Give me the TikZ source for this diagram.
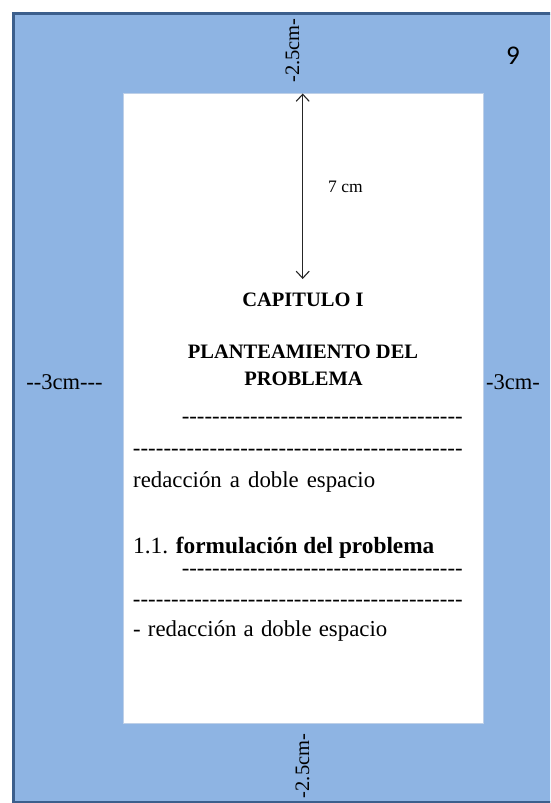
\documentclass[tikz,border=0pt]{standalone}
\usepackage{fontspec}
\setmainfont{Liberation Serif}
\newfontfamily\calfont{Carlito}
\usetikzlibrary{arrows.meta}
\definecolor{pageblue}{RGB}{142,180,227}
\definecolor{borderblue}{RGB}{60,95,140}
\definecolor{edgeblue}{RGB}{190,208,232}
\newcommand\hy{\mbox{-}}
\newcommand\dashfill[1]{\hbox to #1{\xleaders\hbox{-}\hfill}}
\begin{document}
\begin{tikzpicture}[x=1pt,y=-1pt,
  txt/.style={inner sep=0pt, font=\fontsize{20.5}{24}\selectfont, text=black},
  body/.style={txt, font=\fontsize{22.8}{26}\selectfont},
  dimarrow/.style={{Straight Barb[length=7pt,width=13pt]}-{Straight Barb[length=7pt,width=13pt]}, line width=1.1pt, draw=black!85}]
\useasboundingbox (0,0) rectangle (550,803);
\clip (0,0) rectangle (550,803);
\fill[white] (0,0) rectangle (550,803);
\draw[draw=borderblue, fill=pageblue, line width=2.8pt] (13.8,13.6) rectangle (580,802.2);
\node[draw=edgeblue, fill=white, line width=0.8pt, minimum width=360.3pt, minimum height=630pt, inner sep=0pt, anchor=north west] (page) at (122.7,92.7) {};
% dimension arrow
\coordinate (atop) at (302.7,93.5);
\coordinate (abot) at (302.7,279);
\draw[dimarrow] (atop) -- (abot);
\node[txt, font=\fontsize{17.5}{20}\selectfont, anchor=base west] (seven) at (328,192.8) {7 cm};
% margin labels
\node[txt, rotate=90] (mtop) at (292.5,50.5) {-2.5cm-};
\node[txt, rotate=90] (mbot) at (302.5,766) {-2.5cm-};
\node[txt, font=\fontsize{22.5}{26}\selectfont, anchor=base] (mleft) at (64.5,389.3) {\hy\hy3cm\hy\hy\hy};
\node[txt, font=\fontsize{22.5}{26}\selectfont, anchor=base] (mright) at (513,389.3) {-3cm-};
\node[font=\calfont\fontsize{27}{30}\selectfont, inner sep=0pt] (nine) at (513,55.5) {9};
% page content
\node[txt, anchor=base] (cap) at (303,306) {\bfseries CAPITULO I};
\node[txt, anchor=base] (plan1) at (303,358.3) {\bfseries PLANTEAMIENTO DEL};
\node[txt, anchor=base] (plan2) at (303.5,385) {\bfseries PROBLEMA};
\node[body, anchor=base east] (d1) at (463,423) {\dashfill{281pt}};
\node[body, anchor=base east] (d2) at (463,455) {\dashfill{330pt}};
\node[body, anchor=base west] (r1) at (133,487.3) {\makebox[242pt][s]{redacción a doble espacio}};
\node[body, font=\fontsize{23.3}{26}\selectfont, anchor=base west] (f1) at (133,553.3) {1.1. \textbf{formulación del problema}};
\node[body, anchor=base east] (d3) at (463,575.5) {\dashfill{281pt}};
\node[body, anchor=base east] (d4) at (463,606.5) {\dashfill{330pt}};
\node[body, anchor=base west] (r2) at (133,636.7) {\makebox[254pt][s]{- redacción a doble espacio}};
\end{tikzpicture}
\end{document}
